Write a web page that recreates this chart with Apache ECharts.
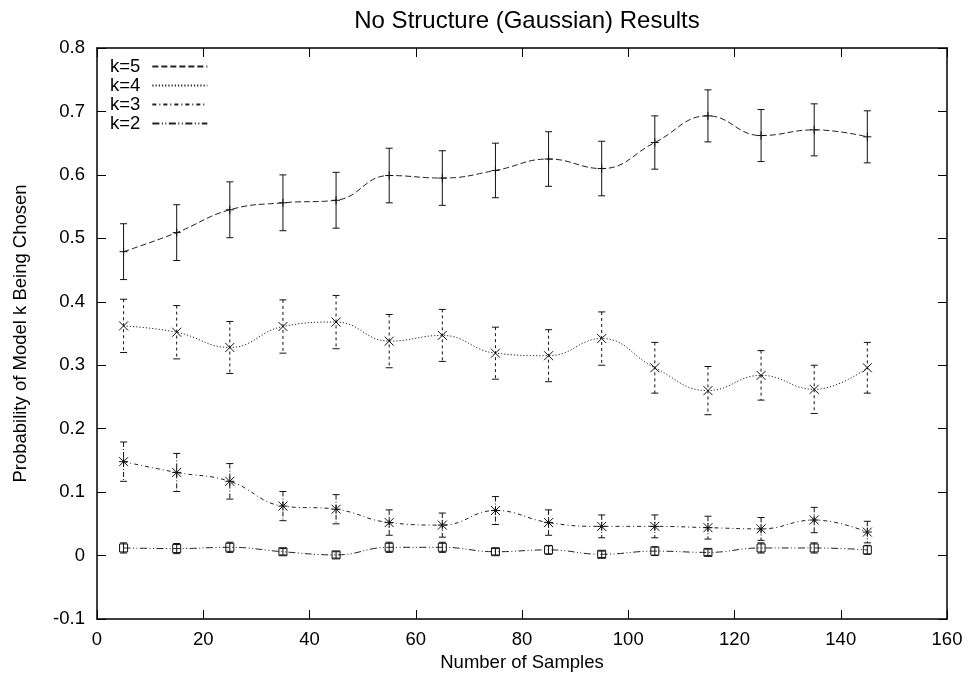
<!DOCTYPE html>
<html>
<head>
<meta charset="utf-8">
<script src="https://cdn.jsdelivr.net/npm/echarts@6/dist/echarts.min.js"></script>
<style>
  html, body { margin: 0; padding: 0; background: #fff; }
  #chart { width: 971px; height: 683px; }
</style>
</head>
<body>
<div id="chart"></div>
<script>
  // x positions (number of samples)
  var samples = [5, 15, 25, 35, 45, 55, 65, 75, 85, 95, 105, 115, 125, 135, 145]

  // mean probability per model
  var k5Mean = [0.479, 0.509, 0.545, 0.556, 0.560, 0.599, 0.595, 0.607, 0.625, 0.610, 0.651, 0.693, 0.662, 0.671, 0.660]
  var k4Mean = [0.362, 0.352, 0.328, 0.361, 0.368, 0.338, 0.347, 0.319, 0.315, 0.342, 0.296, 0.260, 0.284, 0.262, 0.296]
  var k3Mean = [0.148, 0.131, 0.117, 0.078, 0.073, 0.052, 0.048, 0.071, 0.052, 0.046, 0.046, 0.044, 0.042, 0.056, 0.037]
  var k2Mean = [0.012, 0.011, 0.013, 0.006, 0.001, 0.013, 0.013, 0.006, 0.009, 0.002, 0.007, 0.005, 0.012, 0.012, 0.009]

  // half length of the error bars
  var k5Err = [0.044, 0.044, 0.044, 0.044, 0.044, 0.043, 0.043, 0.043, 0.043, 0.043, 0.042, 0.041, 0.041, 0.041, 0.041]
  var k4Err = [0.042, 0.042, 0.041, 0.042, 0.042, 0.042, 0.041, 0.041, 0.041, 0.042, 0.040, 0.038, 0.039, 0.038, 0.040]
  var k3Err = [0.031, 0.030, 0.028, 0.023, 0.023, 0.020, 0.019, 0.022, 0.020, 0.018, 0.018, 0.018, 0.018, 0.020, 0.017]
  var k2Err = [0.008, 0.008, 0.008, 0.005, 0.005, 0.008, 0.008, 0.005, 0.007, 0.005, 0.007, 0.005, 0.008, 0.008, 0.007]

  var seriesNames = ['k=5', 'k=4', 'k=3', 'k=2']

  var FONT = 'Liberation Sans, Arial, Helvetica, sans-serif'
  var INK = '#000'

  // gnuplot-ish dash patterns
  var dashes = {
    'k=5': [6, 3],
    'k=4': [1.2, 2],
    'k=3': [4, 3, 1, 3],
    'k=2': [7, 2.5, 1, 2.5, 1, 2.5]
  }
  var barDashes = {
    'k=5': null,
    'k=4': [3, 3],
    'k=3': [5, 2, 1, 2],
    'k=2': null
  }

  function markerShapes(kind, x, y, stroke) {
    var s = 4.5
    var st = { stroke: stroke, lineWidth: 1, fill: 'none' }
    var seg = function (x1, y1, x2, y2) {
      return { type: 'line', shape: { x1: x1, y1: y1, x2: x2, y2: y2 }, style: st }
    }
    if (kind === 'k=5') {
      return [seg(x - 4, y, x + 4, y), seg(x, y - 4, x, y + 4)]
    }
    if (kind === 'k=4') {
      return [seg(x - s, y - s, x + s, y + s), seg(x - s, y + s, x + s, y - s)]
    }
    if (kind === 'k=3') {
      return [seg(x - s, y - s, x + s, y + s), seg(x - s, y + s, x + s, y - s),
        seg(x - s, y, x + s, y), seg(x, y - s, x, y + s)]
    }
    return [{ type: 'rect', shape: { x: x - 4, y: y - 4, width: 8, height: 8 }, style: st }]
  }

  function errorSeries(name, means, errs) {
    return {
      type: 'custom',
      name: name + ' err',
      xAxisIndex: 0,
      yAxisIndex: 0,
      z: 3,
      data: samples.map(function (x, i) { return [x, means[i], errs[i]] }),
      renderItem: function (params, api) {
        var x = api.value(0)
        var m = api.value(1)
        var e = api.value(2)
        var top = api.coord([x, m + e])
        var bot = api.coord([x, m - e])
        var mid = api.coord([x, m])
        var cap = 3.5
        var stroke = '#111'
        var barStyle = { stroke: stroke, lineWidth: 1, lineDash: barDashes[name] }
        var capStyle = { stroke: stroke, lineWidth: 1 }
        var children = [
          { type: 'line', shape: { x1: top[0], y1: top[1], x2: bot[0], y2: bot[1] }, style: barStyle },
          { type: 'line', shape: { x1: top[0] - cap, y1: top[1], x2: top[0] + cap, y2: top[1] }, style: capStyle },
          { type: 'line', shape: { x1: bot[0] - cap, y1: bot[1], x2: bot[0] + cap, y2: bot[1] }, style: capStyle }
        ]
        return { type: 'group', children: children.concat(markerShapes(name, mid[0], mid[1], stroke)) }
      }
    }
  }

  function lineSeries(name, means) {
    return {
      name: name,
      type: 'line',
      xAxisIndex: 0,
      yAxisIndex: 0,
      smooth: 0.45,
      symbol: 'none',
      showSymbol: false,
      z: 2,
      data: samples.map(function (x, i) { return [x, means[i]] }),
      lineStyle: { color: '#222', width: 1, type: dashes[name] },
      itemStyle: { color: '#222' }
    }
  }

  var chart = echarts.init(document.getElementById('chart'), null, { renderer: 'canvas' })

  var axisCommon = {
    axisLine: { show: true, onZero: false, lineStyle: { color: INK, width: 1.5 } },
    axisTick: { show: true, inside: true, length: 9, lineStyle: { color: INK, width: 1 } },
    splitLine: { show: false }
  }

  chart.setOption({
    backgroundColor: '#fff',
    animation: false,
    title: {
      text: 'No Structure (Gaussian) Results',
      left: 522,
      top: 4,
      textAlign: 'center',
      textStyle: { fontFamily: FONT, fontSize: 24, fontWeight: 'normal', color: INK }
    },
    legend: {
      orient: 'vertical',
      left: 110,
      top: 57,
      padding: 0,
      align: 'right',
      itemWidth: 55,
      itemHeight: 14,
      itemGap: 0,
      data: seriesNames,
      selectedMode: false,
      // hide the circle ECharts puts in the middle of line legend icons
      itemStyle: { color: 'rgba(0,0,0,0)', borderWidth: 0 },
      textStyle: { fontFamily: FONT, fontSize: 18.5, lineHeight: 18.7, color: INK, padding: [0, 7, 0, 0] }
    },
    grid: { left: 97, right: 24, top: 48, bottom: 64, containLabel: false },
    xAxis: [
      Object.assign({
        type: 'value',
        position: 'bottom',
        min: 0,
        max: 160,
        interval: 20,
        name: 'Number of Samples',
        nameLocation: 'middle',
        nameGap: 30,
        nameTextStyle: { fontFamily: FONT, fontSize: 18.5, color: INK },
        axisLabel: { margin: 11, fontFamily: FONT, fontSize: 18.5, color: INK }
      }, axisCommon),
      Object.assign({
        type: 'value',
        position: 'top',
        min: 0,
        max: 160,
        interval: 20,
        axisLabel: { show: false }
      }, axisCommon)
    ],
    yAxis: [
      Object.assign({
        type: 'value',
        position: 'left',
        min: -0.1,
        max: 0.8,
        interval: 0.1,
        name: 'Probability of Model k Being Chosen',
        nameLocation: 'middle',
        nameGap: 67,
        nameTextStyle: { fontFamily: FONT, fontSize: 18.5, color: INK },
        axisLabel: {
          margin: 12,
          fontFamily: FONT,
          fontSize: 18.5,
          color: INK,
          formatter: function (v) { return String(Math.round(v * 10) / 10) }
        }
      }, axisCommon),
      Object.assign({
        type: 'value',
        position: 'right',
        min: -0.1,
        max: 0.8,
        interval: 0.1,
        axisLabel: { show: false }
      }, axisCommon)
    ],
    series: [
      lineSeries('k=5', k5Mean),
      lineSeries('k=4', k4Mean),
      lineSeries('k=3', k3Mean),
      lineSeries('k=2', k2Mean),
      errorSeries('k=5', k5Mean, k5Err),
      errorSeries('k=4', k4Mean, k4Err),
      errorSeries('k=3', k3Mean, k3Err),
      errorSeries('k=2', k2Mean, k2Err)
    ]
  })
</script>
</body>
</html>
